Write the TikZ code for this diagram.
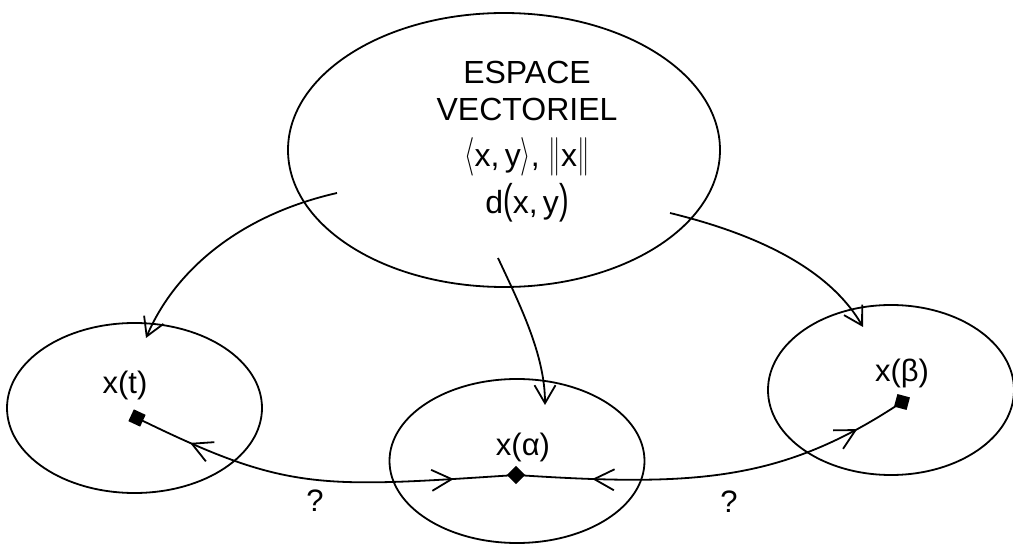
\documentclass[tikz,border=0pt]{standalone}
\usepackage{fontspec}
\setmainfont{Liberation Sans}
\usetikzlibrary{arrows.meta,decorations.markings,shapes.geometric}
\newcommand{\tallL}{\scalebox{1.05}[1.55]{$\langle$}}
\newcommand{\tallR}{\scalebox{1.05}[1.55]{$\rangle$}}
\newcommand{\tallN}{\scalebox{1}[1.55]{$\|$}}
\newcommand{\tallP}[1]{\scalebox{0.9}[1.3]{#1}}
\begin{document}
\begin{tikzpicture}[x=1pt,y=-1pt, line width=1.8pt,
  lbl/.style={font=\fontsize{31}{36}\selectfont, inner sep=0pt},
  big/.style={font=\fontsize{32}{37}\selectfont, inner sep=0pt, align=center},
  oval/.style={draw, ellipse, inner sep=0pt},
  barb/.style={-{Straight Barb[length=18pt,width=21pt]}},
  dot/.style={fill=black, draw=none, rectangle, minimum size=13pt, inner sep=0pt},
  midleft/.style={postaction={decorate}, decoration={markings,
     mark=at position 0.15 with {\arrowreversed{Straight Barb[length=20pt,width=21pt]}},
     mark=at position 0.84 with {\arrow{Straight Barb[length=20pt,width=21pt]}}}},
  midright/.style={postaction={decorate}, decoration={markings,
     mark=at position 0.19 with {\arrowreversed{Straight Barb[length=20pt,width=21pt]}},
     mark=at position 0.87 with {\arrow{Straight Barb[length=20pt,width=21pt]}}}}
]
\useasboundingbox (0,0) rectangle (1013,545);
% ellipses
\node[oval, minimum width=432pt, minimum height=274pt] (E) at (504,150) {};
\node[oval, minimum width=255pt, minimum height=170pt] (L) at (134.5,408) {};
\node[oval, minimum width=255pt, minimum height=164pt] (M) at (517,461) {};
\node[oval, minimum width=246pt, minimum height=170pt] (R) at (891,390) {};
% texts
\node[big] (T) at (527,142)
  {ESPACE\\VECTORIEL\\[9pt]\tallL x,\,y\tallR, \tallN x\tallN\\[6pt]d\tallP{(}x,\,y\tallP{)}};
\node[lbl] (xt) at (125,385) {x(t)};
\node[lbl] (xa) at (523,447) {x(α)};
\node[lbl] (xb) at (902,373) {x(β)};
\node[lbl] (q1) at (315,501) {?};
\node[lbl] (q2) at (729,502) {?};
% points
\node[dot, rotate=-25] (s1) at (137,418) {};
\node[dot, rotate=45] (dia) at (516,475) {};
\node[dot, rotate=-15] (s3) at (902,402) {};
% arrow ends
\coordinate (a1s) at (337,193);
\coordinate (a1e) at (146,338);
\coordinate (a2s) at (498,258);
\coordinate (a2e) at (545,405);
\coordinate (a3s) at (670,213);
\coordinate (a3e) at (863,327);
% arrows from the big ellipse
\draw[barb] (a1s) .. controls (240,215) and (175,270) .. (a1e);
\draw[barb] (a2s) .. controls (520,305) and (545,355) .. (a2e);
\draw[barb] (a3s) .. controls (760,235) and (830,270) .. (a3e);
% curves between points
\draw[midleft] (s1.center) .. controls (287,491.5) and (317,488) .. (dia.center);
\draw[midright] (dia.center) .. controls (695,486.7) and (782,482) .. (s3.center);
\end{tikzpicture}
\end{document}
